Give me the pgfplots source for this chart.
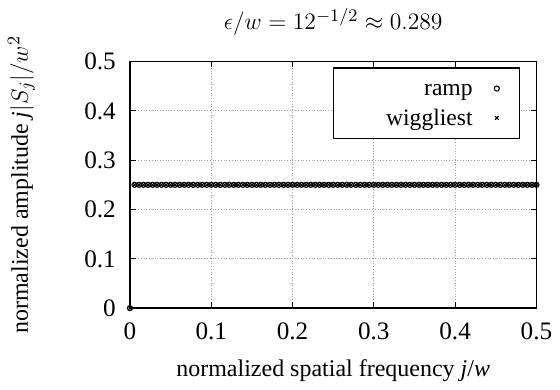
\documentclass[border=0pt]{standalone}
\usepackage{fontspec}
\setmainfont{Liberation Serif}
\usepackage{pgfplots}
\pgfplotsset{compat=1.18}
\begin{document}
\fontsize{12}{14}\selectfont
\begin{tikzpicture}
\begin{axis}[
  scale only axis,
  width=206bp, height=125bp,
  xmin=0, xmax=0.5, ymin=0, ymax=0.5,
  xtick={0,0.1,0.2,0.3,0.4,0.5},
  ytick={0,0.1,0.2,0.3,0.4,0.5},
  xticklabels={0,0.1,0.2,0.3,0.4,0.5},
  yticklabels={0,0.1,0.2,0.3,0.4,0.5},
  ticklabel style={font=\fontsize{12.8}{14}\selectfont},
  xticklabel style={yshift=-3pt},
  yticklabel style={xshift=-3pt},
  tick align=inside, tick pos=both,
  major tick length=3pt,
  grid=major,
  major grid style={gray!70, densely dotted, line width=0.4pt},
  axis line style={line width=0.8pt},
  tick style={black, line width=0.6pt},
  /pgf/number format/assume math mode=true,
  title={$\epsilon/w = 12^{-1/2} \approx 0.289$},
  title style={yshift=3pt, font=\fontsize{12.4}{14}\selectfont},
  xlabel={normalized spatial frequency \textit{j}/\textit{w}},
  ylabel={normalized amplitude \textit{j}$|S_j|/w^2$},
  label style={font=\fontsize{12.2}{14}\selectfont},
  xlabel style={yshift=-2pt},
  ylabel style={yshift=17pt},
  legend style={at={(rel axis cs:0.959,0.976)}, anchor=north east,
    draw=black, line width=0.6pt, fill=white, inner xsep=10bp, inner ysep=3bp,
    row sep=0pt, column sep=9bp, font=\fontsize{12}{13}\selectfont},
  legend cell align=right,
  legend plot pos=right,
]
\addplot[only marks, mark=o, mark size=1.3pt, black, mark options={line width=0.55pt}] coordinates {
(0,0)
(0.0056,0.25)(0.0111,0.25)(0.0167,0.25)(0.0222,0.25)(0.0278,0.25)(0.0333,0.25)(0.0389,0.25)(0.0444,0.25)(0.0500,0.25)
(0.0556,0.25)(0.0611,0.25)(0.0667,0.25)(0.0722,0.25)(0.0778,0.25)(0.0833,0.25)(0.0889,0.25)(0.0944,0.25)(0.1000,0.25)
(0.1056,0.25)(0.1111,0.25)(0.1167,0.25)(0.1222,0.25)(0.1278,0.25)(0.1333,0.25)(0.1389,0.25)(0.1444,0.25)(0.1500,0.25)
(0.1556,0.25)(0.1611,0.25)(0.1667,0.25)(0.1722,0.25)(0.1778,0.25)(0.1833,0.25)(0.1889,0.25)(0.1944,0.25)(0.2000,0.25)
(0.2056,0.25)(0.2111,0.25)(0.2167,0.25)(0.2222,0.25)(0.2278,0.25)(0.2333,0.25)(0.2389,0.25)(0.2444,0.25)(0.2500,0.25)
(0.2556,0.25)(0.2611,0.25)(0.2667,0.25)(0.2722,0.25)(0.2778,0.25)(0.2833,0.25)(0.2889,0.25)(0.2944,0.25)(0.3000,0.25)
(0.3056,0.25)(0.3111,0.25)(0.3167,0.25)(0.3222,0.25)(0.3278,0.25)(0.3333,0.25)(0.3389,0.25)(0.3444,0.25)(0.3500,0.25)
(0.3556,0.25)(0.3611,0.25)(0.3667,0.25)(0.3722,0.25)(0.3778,0.25)(0.3833,0.25)(0.3889,0.25)(0.3944,0.25)(0.4000,0.25)
(0.4056,0.25)(0.4111,0.25)(0.4167,0.25)(0.4222,0.25)(0.4278,0.25)(0.4333,0.25)(0.4389,0.25)(0.4444,0.25)(0.4500,0.25)
(0.4556,0.25)(0.4611,0.25)(0.4667,0.25)(0.4722,0.25)(0.4778,0.25)(0.4833,0.25)(0.4889,0.25)(0.4944,0.25)(0.5000,0.25)
};
\addlegendentry{\makebox[58.5bp][r]{\strut ramp}}
\addplot[only marks, mark=x, mark size=1.3pt, black, mark options={line width=0.55pt}] coordinates {
(0,0)
(0.0056,0.25)(0.0111,0.25)(0.0167,0.25)(0.0222,0.25)(0.0278,0.25)(0.0333,0.25)(0.0389,0.25)(0.0444,0.25)(0.0500,0.25)
(0.0556,0.25)(0.0611,0.25)(0.0667,0.25)(0.0722,0.25)(0.0778,0.25)(0.0833,0.25)(0.0889,0.25)(0.0944,0.25)(0.1000,0.25)
(0.1056,0.25)(0.1111,0.25)(0.1167,0.25)(0.1222,0.25)(0.1278,0.25)(0.1333,0.25)(0.1389,0.25)(0.1444,0.25)(0.1500,0.25)
(0.1556,0.25)(0.1611,0.25)(0.1667,0.25)(0.1722,0.25)(0.1778,0.25)(0.1833,0.25)(0.1889,0.25)(0.1944,0.25)(0.2000,0.25)
(0.2056,0.25)(0.2111,0.25)(0.2167,0.25)(0.2222,0.25)(0.2278,0.25)(0.2333,0.25)(0.2389,0.25)(0.2444,0.25)(0.2500,0.25)
(0.2556,0.25)(0.2611,0.25)(0.2667,0.25)(0.2722,0.25)(0.2778,0.25)(0.2833,0.25)(0.2889,0.25)(0.2944,0.25)(0.3000,0.25)
(0.3056,0.25)(0.3111,0.25)(0.3167,0.25)(0.3222,0.25)(0.3278,0.25)(0.3333,0.25)(0.3389,0.25)(0.3444,0.25)(0.3500,0.25)
(0.3556,0.25)(0.3611,0.25)(0.3667,0.25)(0.3722,0.25)(0.3778,0.25)(0.3833,0.25)(0.3889,0.25)(0.3944,0.25)(0.4000,0.25)
(0.4056,0.25)(0.4111,0.25)(0.4167,0.25)(0.4222,0.25)(0.4278,0.25)(0.4333,0.25)(0.4389,0.25)(0.4444,0.25)(0.4500,0.25)
(0.4556,0.25)(0.4611,0.25)(0.4667,0.25)(0.4722,0.25)(0.4778,0.25)(0.4833,0.25)(0.4889,0.25)(0.4944,0.25)(0.5000,0.25)
};
\addlegendentry{\makebox[58.5bp][r]{\strut wiggliest}}
\end{axis}
\end{tikzpicture}
\end{document}
